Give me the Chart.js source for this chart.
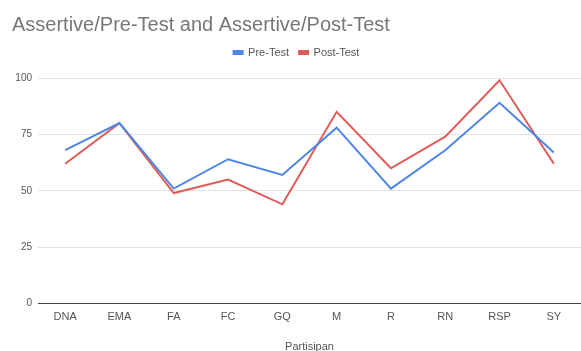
<!DOCTYPE html>
<html>
<head>
<meta charset="utf-8">
<script src="https://cdn.jsdelivr.net/npm/chart.js@4/dist/chart.umd.min.js"></script>
<style>
    html, body { margin: 0; padding: 0; background: #fff; }
    #wrap { width: 581px; height: 351px; position: relative; }
</style>
</head>
<body>
<div id="wrap"><canvas id="chart"></canvas></div>
<script>
// Participants and scores
const categories = ["DNA", "EMA", "FA", "FC", "GQ", "M", "R", "RN", "RSP", "SY"];
const preTest    = [68, 80, 51, 64, 57, 78, 51, 68, 89, 67];
const postTest   = [62, 80, 49, 55, 44, 85, 60, 74, 99, 62];
const yTicks     = [0, 25, 50, 75, 100];

const FONT = "Arial, 'Liberation Sans', sans-serif";

// Leaves a gap between the legend and the plot area
const legendGap = {
    id: "legendGap",
    beforeLayout(chart) {
        const legend = chart.legend;
        if (!legend || legend._gapPatched) {
            return;
        }
        const fit = legend.fit;
        legend.fit = function () {
            fit.call(this);
            this.height += 10;
        };
        legend._gapPatched = true;
    }
};

new Chart(document.getElementById("chart"), {
    type: "line",
    data: {
        labels: categories,
        datasets: [
            {
                label: "Pre-Test",
                data: preTest,
                borderColor: "#4f86e6",
                backgroundColor: "#4f86e6",
                borderWidth: 2,
                pointRadius: 0,
                tension: 0
            },
            {
                label: "Post-Test",
                data: postTest,
                borderColor: "#df5b58",
                backgroundColor: "#df5b58",
                borderWidth: 2,
                pointRadius: 0,
                tension: 0
            }
        ]
    },
    options: {
        responsive: true,
        maintainAspectRatio: false,
        animation: false,
        layout: { padding: { left: 12, right: 0, top: 0, bottom: -3 } },
        plugins: {
            title: {
                display: true,
                text: "Assertive/Pre-Test and Assertive/Post-Test",
                align: "start",
                color: "#777",
                font: { family: FONT, size: 20, weight: "normal" },
                padding: { top: 13, bottom: 0 }
            },
            legend: {
                display: true,
                labels: {
                    color: "#555",
                    font: { family: FONT, size: 11 },
                    boxWidth: 9,
                    boxHeight: 3,
                    padding: 10
                }
            },
            tooltip: { enabled: false }
        },
        scales: {
            x: {
                offset: true,
                grid: { display: false, drawTicks: false },
                border: { color: "#444", width: 1 },
                ticks: {
                    color: "#555",
                    font: { family: FONT, size: 11 },
                    padding: 7,
                    maxRotation: 0
                },
                title: {
                    display: true,
                    text: "Partisipan",
                    color: "#555",
                    font: { family: FONT, size: 11 },
                    padding: { top: 10, bottom: 0 }
                }
            },
            y: {
                min: 0,
                max: 100,
                afterBuildTicks: (axis) => {
                    axis.ticks = yTicks.map(v => ({ value: v }));
                },
                afterFit: (axis) => { axis.width = 26; },
                grid: { color: "#e3e3e3", drawTicks: false },
                border: { display: false },
                ticks: {
                    color: "#555",
                    font: { family: FONT, size: 10 },
                    padding: 6
                }
            }
        }
    },
    plugins: [legendGap]
});
</script>
</body>
</html>
